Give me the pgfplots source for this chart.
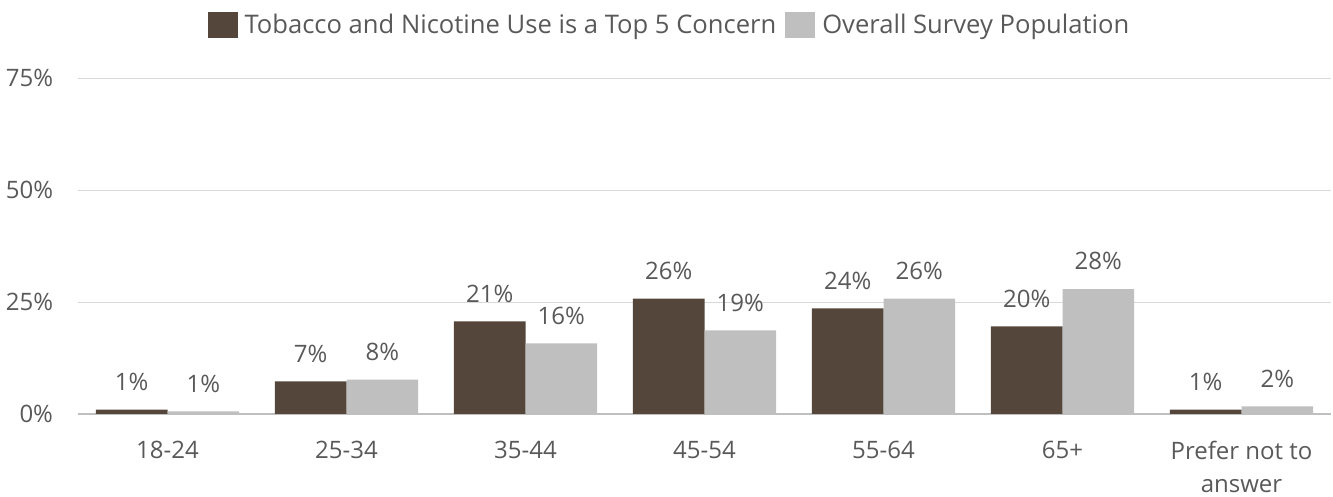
\documentclass[border=0pt]{standalone}
\usepackage{pgfplots}
\pgfplotsset{compat=1.18}
\usepackage{fontspec}
\setmainfont{Open Sans}
\definecolor{darkb}{HTML}{54463A}
\definecolor{lgray}{HTML}{BFBFBF}
\definecolor{txt}{HTML}{595959}
\definecolor{gridc}{HTML}{D9D9D9}
\definecolor{axc}{HTML}{BFBFBF}
\begin{document}
\begin{tikzpicture}
\useasboundingbox (0,0) rectangle (666.5pt,248.5pt);
\begin{axis}[
  at={(39pt,41.5pt)}, anchor=south west,
  scale only axis, width=626.5pt, height=167.8pt,
  xmin=-0.5, xmax=6.5, ymin=0, ymax=75,
  ybar=0pt, bar width=0.4,
  xtick={0,...,6},
  xticklabels={18-24,25-34,35-44,45-54,55-64,65+,{Prefer not to\\answer}},
  ytick={0,25,50,75}, yticklabels={0\%,25\%,50\%,75\%},
  major tick length=0pt,
  axis x line*=bottom, axis y line*=left,
  x axis line style={draw=axc, line width=0.8pt},
  y axis line style={draw=none},
  ymajorgrids, grid style={draw=gridc, line width=0.6pt},
  xticklabel style={anchor=north, inner sep=0pt, yshift=-13.5pt, align=center, font=\fontsize{12}{16.5}\selectfont, text=txt},
  yticklabel style={anchor=east, inner sep=0pt, xshift=-12.3pt, font=\fontsize{12}{14}\selectfont, text=txt},
  nodes near coords={\pgfmathprintnumber[fixed,precision=0]{\pgfplotspointmeta}\%},
  /pgf/number format/assume math mode=true,
  every node near coord/.append style={anchor=south, inner sep=0pt, yshift=9.3pt, font=\fontsize{12}{14}\selectfont, text=txt},
  legend columns=-1,
  legend style={at={(0.474,1.158)}, anchor=center, draw=none, fill=none, inner sep=0pt,
    font=\fontsize{12.8}{15}\selectfont, text=txt,
    /tikz/every even column/.append style={column sep=1pt},
    nodes={inner sep=3.5pt}},
  legend image code/.code={\draw[#1, draw=none] (0pt,-6.5pt) rectangle (15pt,6.5pt);},
  clip=false,
]
\addplot[fill=darkb, draw=none] coordinates {(0,1.0) (1,7.3) (2,20.7) (3,25.8) (4,23.6) (5,19.6) (6,1.0)};
\addplot[fill=lgray, draw=none] coordinates {(0,0.6) (1,7.7) (2,15.8) (3,18.7) (4,25.8) (5,27.9) (6,1.7)};
\legend{Tobacco and Nicotine Use is a Top 5 Concern, Overall Survey Population}
\end{axis}
\end{tikzpicture}
\end{document}
